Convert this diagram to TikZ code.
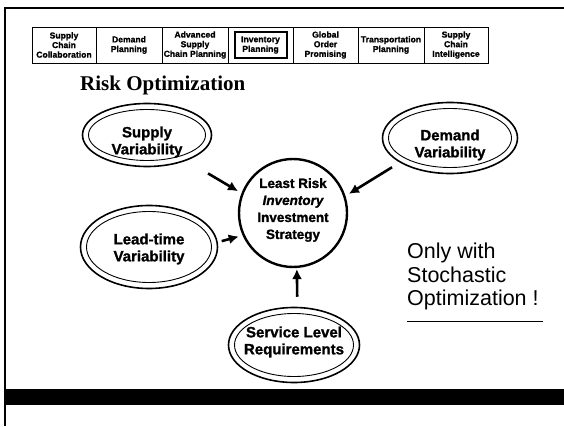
\documentclass[tikz,border=0pt]{standalone}
\usepackage{fontspec}
\setmainfont{Liberation Serif}
\setsansfont{Liberation Sans}
\newfontfamily\heavysans{Liberation Sans Bold}[FakeBold=1.2]
\newfontfamily\heavysansit{Liberation Sans Bold Italic}[FakeBold=1.2]
\usetikzlibrary{shapes.geometric,arrows.meta}
\begin{document}
\begin{tikzpicture}[x=1pt,y=1pt,
  tab/.style={draw, line width=0.8pt, minimum height=36pt, inner sep=0pt, align=center,
    font=\heavysans\fontsize{8.6}{9.6}\selectfont},
  oval/.style={ellipse, draw, line width=1.6pt, inner sep=0pt},
  inoval/.style={line width=0.9pt},
  otxt/.style={align=center, inner sep=0pt, font=\heavysans\fontsize{15}{17}\selectfont},
  rtxt/.style={anchor=base west, inner sep=0pt, font=\sffamily\fontsize{21.5}{24}\selectfont},
  arr/.style={line width=2.6pt, -{Latex[length=10pt,width=10pt]}}
]
\useasboundingbox (0,0) rectangle (564,426);
\fill[white] (0,0) rectangle (564,426);
% frame and bar
\draw[line width=2pt] (5,0) -- (5,418) -- (564,418);
\fill[black] (5,21) rectangle (564,37);
% tabs
\node[tab, minimum width=64pt] (t1) at (64,381) {Supply\\Chain\\Collaboration};
\node[tab, minimum width=66pt] (t2) at (129,381) {Demand\\Planning};
\node[tab, minimum width=66pt] (t3) at (195,381) {Advanced\\Supply\\Chain Planning};
\node[tab, minimum width=65pt] (t4) at (260.5,381) {Inventory\\Planning};
\node[draw, line width=1.2pt, minimum width=52pt, minimum height=26pt, inner sep=0pt] (t4in) at (261,381) {};
\node[tab, minimum width=65pt] (t5) at (325.5,381) {Global\\Order\\Promising};
\node[tab, minimum width=66pt] (t6) at (391,381) {Transportation\\Planning};
\node[tab, minimum width=64pt] (t7) at (456,381) {Supply\\Chain\\Intelligence};
% title
\node[anchor=base west, inner sep=0pt, font=\bfseries\fontsize{21}{25}\selectfont] (title) at (80,335) {Risk Optimization};
% ellipses
\node[oval, minimum width=129pt, minimum height=63pt] (sup) at (147,291) {};
\draw[inoval] (sup.center) ellipse [x radius=58.5, y radius=25.5];
\node[otxt] (supt) at (147,284) {Supply\\Variability};
\node[oval, minimum width=135pt, minimum height=71pt] (dem) at (450,288) {};
\draw[inoval] (dem.center) ellipse [x radius=61.5, y radius=29.5];
\node[otxt] (demt) at (450,281) {Demand\\Variability};
\node[oval, minimum width=137pt, minimum height=83pt] (lead) at (149,179) {};
\draw[inoval] (lead.center) ellipse [x radius=62.5, y radius=35.5];
\node[otxt] (leadt) at (149,177) {Lead-time\\Variability};
\node[oval, minimum width=131pt, minimum height=75pt] (svc) at (294,81) {};
\draw[inoval] (svc.center) ellipse [x radius=59.5, y radius=31.5];
\node[otxt] (svct) at (294,84) {Service Level\\Requirements};
% centre
\node[circle, draw, line width=2.4pt, minimum size=108pt, inner sep=0pt] (ctr) at (293,213) {};
\node[align=center, inner sep=0pt, font=\heavysans\fontsize{13.5}{17}\selectfont] (ctrt) at (293,216)
  {Least Risk\\{\heavysansit Inventory}\\Investment\\Strategy};
% arrows
\draw[arr, shorten <=25pt, shorten >=4pt] (sup.-33) -- (ctr.159);
\draw[arr, shorten <=9pt, shorten >=4pt] (dem.206) -- (ctr.18);
\draw[arr, shorten <=4pt, shorten >=4pt] (lead.4) -- (ctr.204);
\draw[arr, shorten <=10pt, shorten >=1pt] (svc.85) -- (ctr.274);
% right text
\node[rtxt] (only1) at (407,168) {Only with};
\node[rtxt] (only2) at (407,144) {Stochastic};
\node[rtxt] (only3) at (407,121) {Optimization !};
\draw[line width=1pt] (407,105) -- (543,105);
\end{tikzpicture}
\end{document}
